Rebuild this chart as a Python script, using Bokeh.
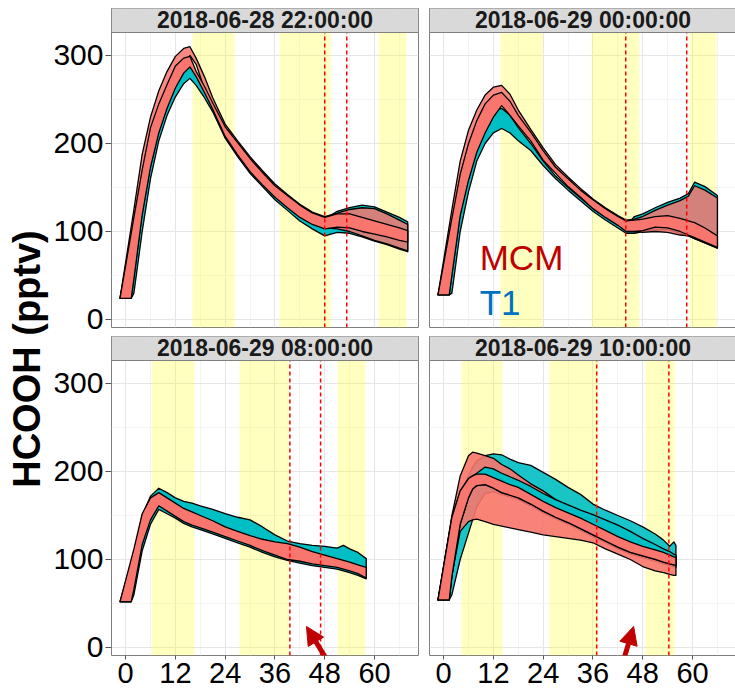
import math
from bokeh.plotting import figure
from bokeh.models import FixedTicker, Range1d, Label, Arrow, NormalHead, Grid
from bokeh.layouts import row, column
from bokeh.embed import file_html
from bokeh.resources import INLINE

# ---------------- data ----------------
X_TICKS = [0, 12, 24, 36, 48, 60]
X_MINOR = [6, 18, 30, 42, 54, 66]
Y_TICKS = [0, 100, 200, 300]
Y_MINOR = [50, 150, 250]

TITLES = ["2018-06-28 22:00:00", "2018-06-29 00:00:00",
          "2018-06-29 08:00:00", "2018-06-29 10:00:00"]

# top-left
TL_START = 24
TL_HOURS = [2, 4, 6, 8, 10, 12, 14, 15.5, 17, 19, 21, 24, 27, 30, 33, 36, 39, 42, 45, 48, 51, 54, 57, 60, 63, 66, 68]
TL_T1_HI = [105, 160, 205, 235, 258, 275, 286, 288, 279, 262, 244, 216, 199, 181, 165, 150, 139, 128, 119, 114, 123, 127, 130, 128, 122, 116, 111]
TL_T1_LO = [30, 100, 160, 203, 232, 253, 268, 274, 266, 252, 236, 206, 185, 166, 151, 136, 124, 112, 103, 95, 99, 98, 94, 89, 85, 80, 77]
TL_MCM2_HI = [125, 188, 230, 260, 282, 299, 308, 310, 297, 276, 252, 222, 203, 185, 169, 154, 142, 131, 122, 117, 121, 125, 127, 126, 120, 113, 108]
TL_MCM2_LO = [48, 121, 175, 214, 242, 265, 289, 300, 290, 262, 241, 210, 189, 170, 155, 141, 129, 118, 110, 104, 103, 100, 95, 90, 86, 81, 78]
TL_MCM_HI = [116, 170, 218, 245, 267, 288, 297, 299, 282, 265, 246, 219, 201, 183, 167, 152, 141, 130, 121, 116, 120, 120, 116, 112, 108, 104, 101]
TL_MCM_LO = [46, 119, 173, 212, 240, 263, 280, 287, 276, 258, 239, 208, 187, 168, 153, 139, 127, 116, 108, 103, 105, 104, 100, 97, 94, 90, 88]
TL_DAY_START = [16.1, 37.1, 61.0]
TL_DAY_END = [26.3, 49.4, 67.7]
TL_VLINES = [48.0, 53.3]

# top-right
TR_START = 28
TR_HOURS = [2, 4, 6, 8, 10, 12, 14, 16, 18, 21, 24, 27, 30, 33, 36, 39, 42, 44, 46, 48, 51, 54, 57, 59, 60.5, 63, 66]
TR_T1_HI = [100, 150, 185, 212, 228, 237, 240, 232, 218, 200, 180, 163, 150, 138, 126, 117, 109, 106, 117, 120, 127, 133, 138, 143, 156, 151, 141]
TR_T1_LO = [30, 100, 145, 180, 200, 212, 217, 212, 203, 192, 175, 160, 147, 135, 123, 113, 104, 98, 98, 100, 102, 102, 98, 95, 92, 87, 81]
TR_MCM2_HI = [125, 180, 215, 238, 255, 264, 266, 256, 238, 216, 195, 176, 162, 149, 137, 127, 118, 113, 114, 117, 124, 130, 135, 140, 152, 147, 138]
TR_MCM2_LO = [52, 120, 160, 192, 215, 238, 250, 242, 222, 205, 183, 168, 153, 141, 128, 118, 109, 102, 101, 99, 100, 99, 96, 95, 92, 87, 81]
TR_MCM_HI = [115, 165, 200, 226, 245, 255, 258, 248, 232, 213, 192, 173, 160, 147, 136, 126, 117, 112, 113, 114, 117, 118, 115, 112, 110, 104, 95]
TR_MCM_LO = [50, 118, 158, 190, 212, 230, 243, 232, 220, 203, 181, 166, 151, 139, 126, 116, 107, 100, 100, 101, 105, 104, 100, 96, 93, 88, 82]
TR_DAY_START = [13.7, 35.7, 59.3]
TR_DAY_END = [23.9, 47.2, 65.8]
TR_VLINES = [43.9, 58.6]

# bottom-left
BL_START = 52
BL_HOURS = [2, 4, 6, 8, 10, 12, 14, 16, 18, 21, 24, 27, 30, 33, 36, 39, 42, 45, 48, 51, 52.5, 54, 56, 58]
BL_T1_HI = [108, 150, 172, 181, 176, 170, 166, 164, 161, 157, 152, 148, 145, 137, 128, 121, 118, 116, 115, 113, 116, 112, 108, 101]
BL_T1_LO = [60, 110, 140, 157, 152, 147, 141, 137, 134, 129, 124, 119, 114, 108, 103, 99, 96, 93, 91, 89, 87, 85, 82, 78]
BL_MCM_HI = [112, 152, 170, 176, 170, 164, 158, 154, 150, 144, 137, 132, 127, 123, 120, 118, 114, 109, 105, 101, 99, 97, 94, 91]
BL_MCM_LO = [66, 117, 145, 161, 155, 149, 143, 139, 136, 131, 126, 121, 116, 110, 105, 100, 98, 95, 93, 91, 89, 87, 84, 79]
BL_DAY_START = [6.3, 27.5, 51.1]
BL_DAY_END = [16.6, 39.3, 57.8]
BL_VLINES = [39.6, 47.0]

# bottom-right
BR_START = 54
BR_HOURS = [2, 4, 6, 7, 8, 10, 12, 14, 16, 18, 21, 24, 27, 30, 33, 36, 39, 42, 45, 48, 51, 53, 54.5, 55.5, 56]
BR_T1_HI = [140, 175, 195, 205, 212, 218, 220, 219, 214, 210, 207, 199, 191, 182, 174, 163, 156, 150, 144, 137, 129, 122, 115, 120, 116]
BR_T1_LO = [60, 100, 130, 145, 160, 175, 177, 174, 171, 168, 161, 153, 146, 140, 133, 126, 119, 112, 106, 102, 98, 95, 93, 92, 91]
BR_MCM2_HI = [150, 195, 218, 222, 221, 218, 215, 208, 203, 196, 186, 178, 168, 160, 153, 146, 139, 131, 124, 118, 113, 110, 107, 105, 104]
BR_MCM2_LO = [82, 132, 143, 145, 146, 143, 140, 138, 136, 134, 131, 128, 126, 124, 122, 119, 112, 106, 100, 92, 87, 85, 83, 82, 82]
BR_T1B_HI = [148, 178, 192, 195, 198, 205, 203, 198, 194, 190, 183, 175, 168, 162, 156, 151, 145, 139, 132, 124, 117, 112, 109, 106, 105]
BR_T1B_LO = [81, 140, 170, 180, 184, 185, 181, 176, 173, 170, 163, 155, 148, 142, 135, 128, 121, 114, 108, 104, 100, 97, 95, 94, 93]
BR_MCM_HI = [148, 178, 192, 195, 197, 197, 193, 189, 185, 182, 174, 166, 159, 153, 147, 140, 133, 126, 120, 115, 111, 108, 105, 103, 102]
BR_MCM_LO = [81, 140, 170, 180, 184, 185, 181, 176, 173, 170, 163, 155, 148, 142, 135, 128, 121, 114, 108, 104, 100, 97, 95, 94, 93]
BR_DAY_START = [4.3, 25.5, 48.7]
BR_DAY_END = [14.2, 37.3, 55.7]
BR_VLINES = [36.9, 54.3]

# ---------------- style ----------------
FONT = "Liberation Sans"
TEAL = "#00BFC4"
SALMON = "#F8766D"
DARKRED = "#C00000"
BLUE = "#0070C0"
X_RANGE = (-3.4, 70.6)
Y_RANGE = (-9.1, 353.4)
PANEL_TOP = 326.1
START_SPREAD = 1.35
FRAME_W = 307
FRAME_H = 319


def ribbon(p, hours, hi, lo, start, color, alpha):
    xs = [-START_SPREAD] + list(hours) + list(hours)[::-1] + [START_SPREAD]
    ys = [start] + list(hi) + list(lo)[::-1] + [start]
    p.patch(xs, ys, fill_color=color, fill_alpha=alpha,
            line_color="black", line_width=1.3, line_join="round")


def make_panel(day_start, day_end, xaxis, yaxis, mb_left, mb_right, mb_top, mb_bottom):
    p = figure(frame_width=FRAME_W, frame_height=FRAME_H,
               x_range=Range1d(*X_RANGE), y_range=Range1d(*Y_RANGE),
               output_backend="svg", toolbar_location=None,
               x_axis_location="below" if xaxis else None,
               y_axis_location="left" if yaxis else None,
               min_border_left=mb_left, min_border_right=mb_right,
               min_border_top=mb_top, min_border_bottom=mb_bottom,
               outline_line_color="#7f7f7f", outline_line_width=1,
               background_fill_color="white", border_fill_color="white")
    p.center = [c for c in p.center if not isinstance(c, Grid)]
    p.add_layout(Grid(dimension=0, ticker=FixedTicker(ticks=X_TICKS, minor_ticks=X_MINOR),
                      grid_line_color="#E6E6E6", grid_line_width=1.1,
                      minor_grid_line_color="#F1F1F1", minor_grid_line_width=0.8))
    p.add_layout(Grid(dimension=1, ticker=FixedTicker(ticks=Y_TICKS, minor_ticks=Y_MINOR),
                      grid_line_color="#E6E6E6", grid_line_width=1.1,
                      minor_grid_line_color="#F1F1F1", minor_grid_line_width=0.8))
    if xaxis:
        ax = p.xaxis[0]
        ax.ticker = FixedTicker(ticks=X_TICKS)
        ax.axis_line_color = None
        ax.major_tick_in = 0
        ax.major_tick_out = 4
        ax.minor_tick_out = 0
        ax.minor_tick_in = 0
        ax.major_tick_line_color = "#555555"
        ax.major_label_standoff = 3
        ax.major_label_text_font = FONT
        ax.major_label_text_font_size = "29px"
        ax.major_label_text_color = "black"
    if yaxis:
        ay = p.yaxis[0]
        ay.ticker = FixedTicker(ticks=Y_TICKS)
        ay.axis_line_color = None
        ay.major_tick_in = 0
        ay.major_tick_out = 6
        ay.minor_tick_out = 0
        ay.minor_tick_in = 0
        ay.major_tick_line_color = "#555555"
        ay.major_label_standoff = 2
        ay.major_label_text_font = FONT
        ay.major_label_text_font_size = "30px"
        ay.major_label_text_color = "black"
    p.quad(left=day_start, right=day_end, bottom=Y_RANGE[0], top=PANEL_TOP,
           fill_color="yellow", fill_alpha=0.25, line_color=None)
    return p


def finish_panel(p, title, vlines):
    p.segment(x0=vlines, x1=vlines, y0=Y_RANGE[0], y1=PANEL_TOP,
              line_color="#FF0000", line_width=1.5, line_dash="4 3")
    p.quad(left=[X_RANGE[0]], right=[X_RANGE[1]], bottom=[PANEL_TOP], top=[Y_RANGE[1] + 2],
           fill_color="#D9D9D9", line_color="#7f7f7f", line_width=1)
    p.add_layout(Label(x=(X_RANGE[0] + X_RANGE[1]) / 2, y=340.2, text=title,
                       text_align="center", text_baseline="alphabetic",
                       text_font=FONT, text_font_style="bold", text_font_size="23px",
                       text_color="#1a1a1a"))


# ---- top-left ----
tl = make_panel(TL_DAY_START, TL_DAY_END, False, True, 60, 6, 8, 9)
ribbon(tl, TL_HOURS, TL_T1_HI, TL_T1_LO, TL_START, TEAL, 1.0)
ribbon(tl, TL_HOURS, TL_MCM2_HI, TL_MCM2_LO, TL_START, SALMON, 0.85)
ribbon(tl, TL_HOURS, TL_MCM_HI, TL_MCM_LO, TL_START, SALMON, 1.0)
finish_panel(tl, TITLES[0], TL_VLINES)

# ---- top-right ----
tr = make_panel(TR_DAY_START, TR_DAY_END, False, False, 5, 0, 8, 9)
ribbon(tr, TR_HOURS, TR_T1_HI, TR_T1_LO, TR_START, TEAL, 1.0)
ribbon(tr, TR_HOURS, TR_MCM2_HI, TR_MCM2_LO, TR_START, SALMON, 0.85)
ribbon(tr, TR_HOURS, TR_MCM_HI, TR_MCM_LO, TR_START, SALMON, 1.0)
finish_panel(tr, TITLES[1], TR_VLINES)
tr.add_layout(Label(x=8.7, y=71.0, text="MCM", text_font=FONT, text_font_size="35px",
                    text_color=DARKRED, text_baseline="alphabetic"))
tr.add_layout(Label(x=8.7, y=19.8, text="T1", text_font=FONT, text_font_size="35px",
                    text_color=BLUE, text_baseline="alphabetic"))

# ---- bottom-left ----
bl = make_panel(BL_DAY_START, BL_DAY_END, True, True, 60, 6, 0, 38)
ribbon(bl, BL_HOURS, BL_T1_HI, BL_T1_LO, BL_START, TEAL, 1.0)
ribbon(bl, BL_HOURS, BL_MCM_HI, BL_MCM_LO, BL_START, SALMON, 1.0)
finish_panel(bl, TITLES[2], BL_VLINES)
bl.add_layout(Arrow(end=NormalHead(size=18, fill_color=DARKRED, line_color=DARKRED),
                    x_start=54.5, y_start=-60, x_end=43.6, y_end=23.9,
                    line_color=DARKRED, line_width=5))

# ---- bottom-right ----
br = make_panel(BR_DAY_START, BR_DAY_END, True, False, 5, 0, 0, 38)
ribbon(br, BR_HOURS, BR_T1_HI, BR_T1_LO, BR_START, TEAL, 0.9)
ribbon(br, BR_HOURS, BR_MCM2_HI, BR_MCM2_LO, BR_START, SALMON, 0.9)
ribbon(br, BR_HOURS, BR_T1B_HI, BR_T1B_LO, BR_START, TEAL, 1.0)
ribbon(br, BR_HOURS, BR_MCM_HI, BR_MCM_LO, BR_START, SALMON, 1.0)
finish_panel(br, TITLES[3], BR_VLINES)
br.add_layout(Arrow(end=NormalHead(size=18, fill_color=DARKRED, line_color=DARKRED),
                    x_start=40.5, y_start=-60, x_end=45.8, y_end=23.9,
                    line_color=DARKRED, line_width=5))

# ---- shared y-axis title ----
ylab = figure(width=50, height=694, x_range=Range1d(0, 50), y_range=Range1d(0, 694),
              output_backend="svg", toolbar_location=None,
              x_axis_location=None, y_axis_location=None,
              min_border=0, outline_line_color=None)
ylab.center = [c for c in ylab.center if not isinstance(c, Grid)]
ylab.add_layout(Label(x=26.6, y=335.5, text="HCOOH (pptv)", angle=math.pi / 2,
                      text_align="center", text_baseline="alphabetic",
                      text_font=FONT, text_font_style="bold", text_font_size="38px",
                      text_color="black"))

layout = row(ylab, column(row(tl, tr), row(bl, br)))
open("out.html", "w").write(file_html(layout, INLINE))
